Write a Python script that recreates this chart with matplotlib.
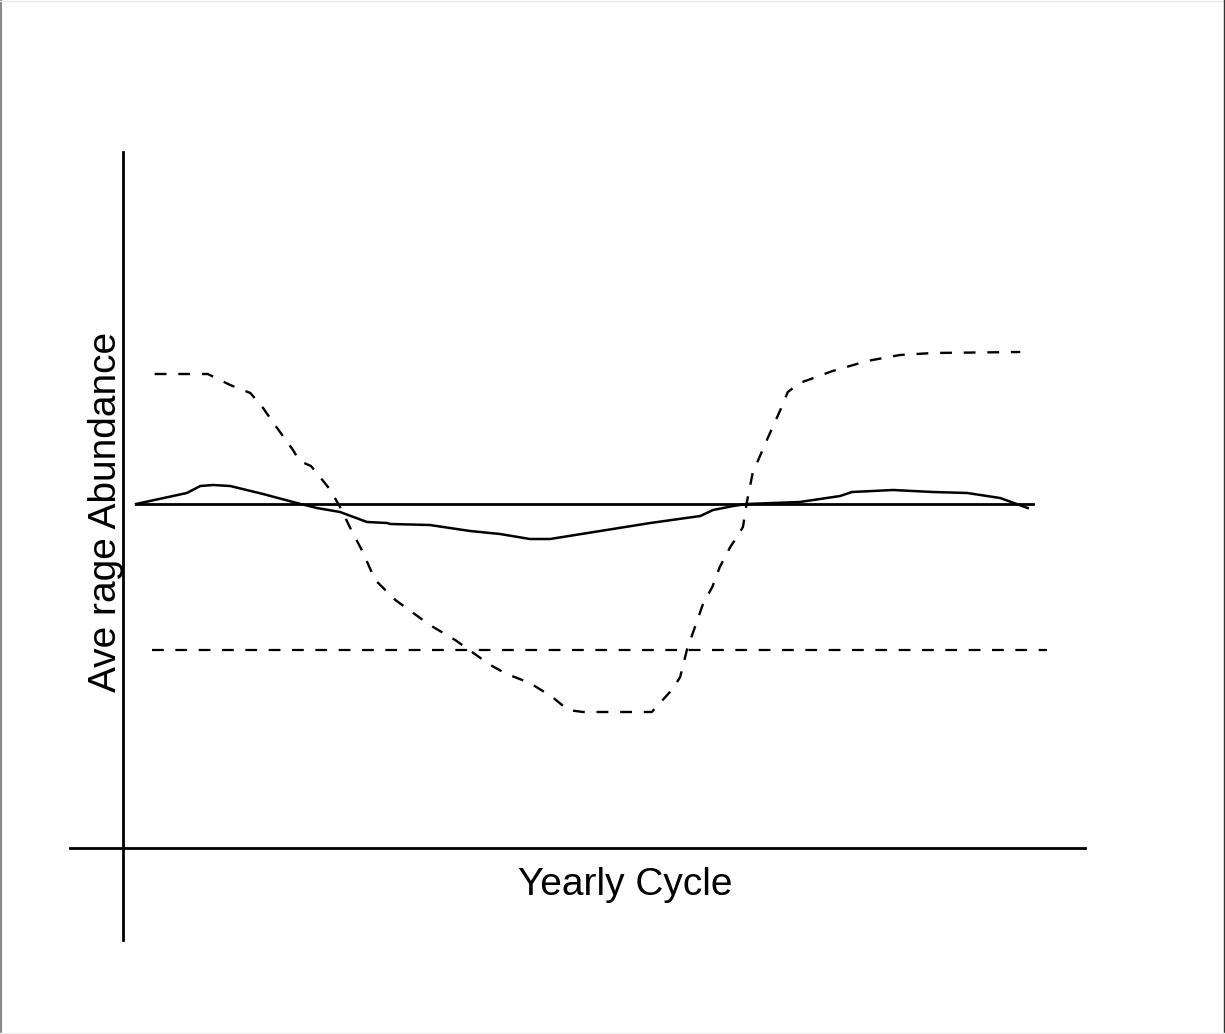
import matplotlib.pyplot as plt
from matplotlib.lines import Line2D

plt.rcParams['font.family'] = ['Liberation Sans', 'DejaVu Sans']

# month of the year (0 - 12) and deviation of the abundance
solid_x = [0.0, 0.68, 0.86, 1.03, 1.26, 1.70, 2.15, 2.42, 2.73, 3.09, 3.36, 3.40,
           3.93, 4.47, 4.87, 5.27, 5.54, 6.21, 6.88, 7.55, 7.72, 7.99, 8.17, 8.88,
           9.42, 9.58, 10.13, 10.66, 11.12, 11.56, 11.93]
solid_y = [0.0, 0.11, 0.18, 0.19, 0.18, 0.10, 0.01, -0.04, -0.08, -0.18, -0.19, -0.20,
           -0.21, -0.27, -0.30, -0.35, -0.35, -0.27, -0.19, -0.12, -0.06, -0.02, 0.0, 0.02,
           0.08, 0.12, 0.14, 0.12, 0.11, 0.06, -0.04]

dash_x = [0.25, 0.96, 1.26, 1.53, 1.70, 1.83, 2.10, 2.19, 2.34, 2.42, 2.60, 2.73,
          2.86, 3.02, 3.20, 3.47, 3.93, 4.27, 4.74, 4.96, 5.27, 5.57, 5.78, 5.98,
          6.70, 6.90, 7.18, 7.28, 7.37, 7.45, 7.59, 7.71, 7.81, 7.95, 8.04, 8.12,
          8.17, 8.25, 8.44, 8.62, 8.72, 8.88, 9.32, 9.78, 10.22, 10.66, 11.83]
dash_y = [1.30, 1.30, 1.19, 1.11, 0.96, 0.82, 0.54, 0.43, 0.38, 0.31, 0.14, -0.03,
          -0.23, -0.46, -0.76, -0.96, -1.21, -1.36, -1.61, -1.70, -1.79, -1.93, -2.06, -2.08,
          -2.08, -2.08, -1.85, -1.73, -1.46, -1.29, -0.99, -0.83, -0.63, -0.43, -0.33, -0.23,
          0.01, 0.31, 0.64, 0.94, 1.12, 1.21, 1.33, 1.43, 1.49, 1.51, 1.52]

zero_x = [0.0, 12.0]
zero_y = [0.0, 0.0]
low_x = [0.21, 12.19]
low_y = [-1.46, -1.46]

fig = plt.figure(figsize=(12.25, 10.34), dpi=100)
ax = fig.add_axes([70/1225, 1 - 940/1034, 1015/1225, 788/1034])
ax.set_xlim(-0.883, 12.696)
ax.set_ylim(-4.36, 3.52)

ax.plot(zero_x, zero_y, color='black', lw=2.0)
ax.plot(solid_x, solid_y, color='black', lw=1.8)
ax.plot(dash_x, dash_y, color='black', lw=1.7, linestyle=(0, (5, 5)))
ax.plot(low_x, low_y, color='black', lw=1.6, linestyle=(0, (5.3, 5.2)))

for s in ['top', 'right']:
    ax.spines[s].set_visible(False)
ax.spines['left'].set_position(('data', -0.174))
ax.spines['bottom'].set_position(('data', -3.44))
ax.spines['left'].set_linewidth(2.0)
ax.spines['bottom'].set_linewidth(2.0)
ax.set_xticks([])
ax.set_yticks([])
ax.patch.set_visible(False)

fig.text(625/1225, 1 - 885/1034, 'Yearly Cycle', fontsize=28, ha='center', va='center')
fig.text(106/1225, 1 - 512/1034, 'Ave rage Abundance', fontsize=28, rotation=90,
         ha='center', va='center')

# frame around the picture
fig.add_artist(Line2D([0.001, 0.001], [0, 1], color='#888888', lw=1.5, transform=fig.transFigure))
fig.add_artist(Line2D([0, 1], [0.9995, 0.9995], color='#e6e6e6', lw=1, transform=fig.transFigure))
fig.add_artist(Line2D([0.9995, 0.9995], [0, 1], color='#333333', lw=1, transform=fig.transFigure))
fig.add_artist(Line2D([0, 1], [0.0005, 0.0005], color='#f0f0f0', lw=1, transform=fig.transFigure))

fig.savefig('out.png', dpi=100)
